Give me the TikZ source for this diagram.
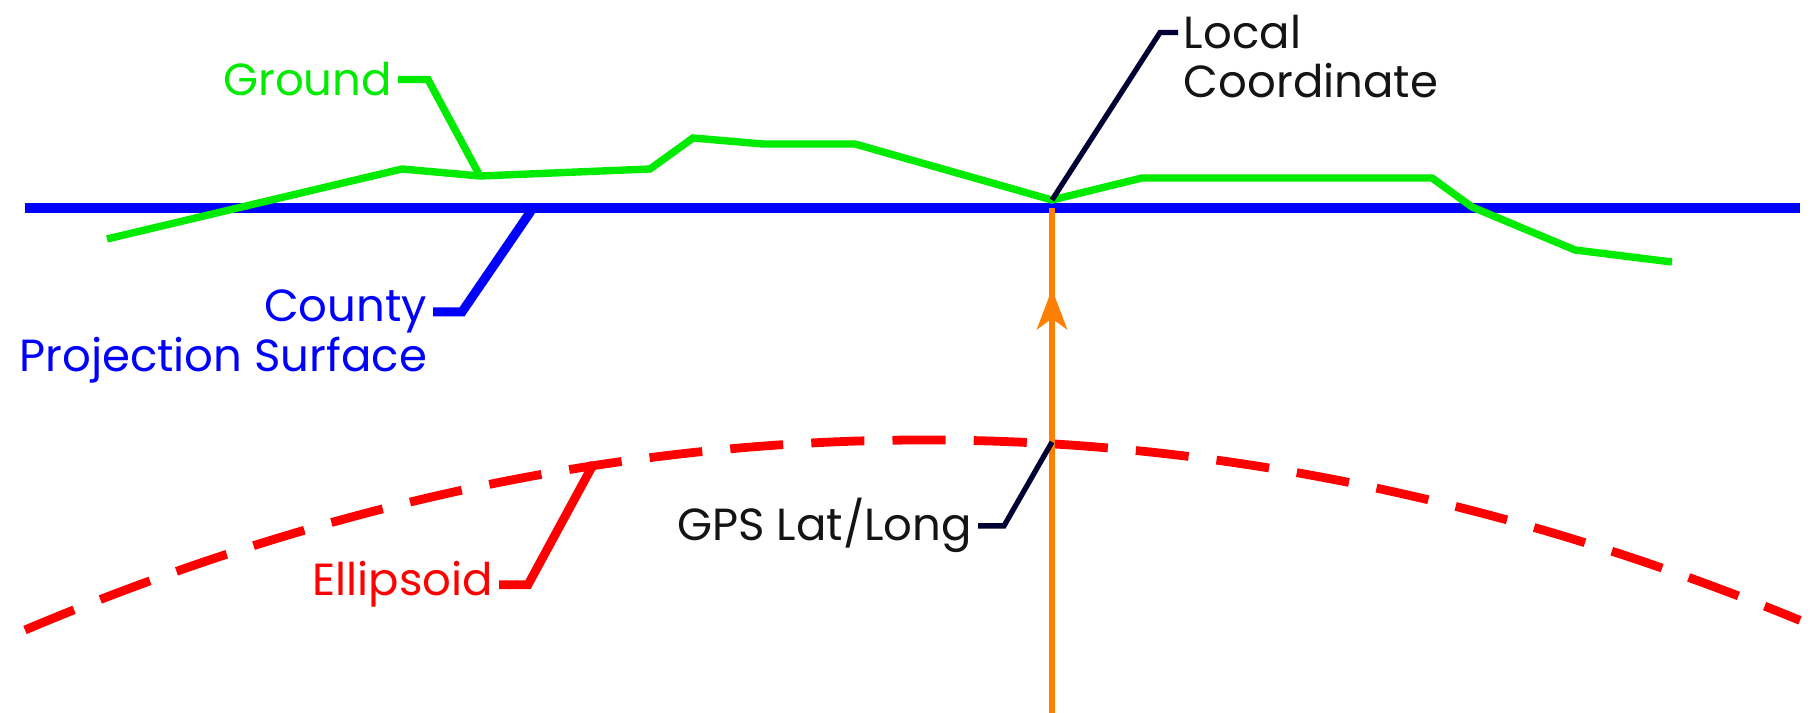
\documentclass[tikz,border=0pt]{standalone}
\usepackage{fontspec}
\setmainfont{Poppins}
\usetikzlibrary{arrows.meta}
\definecolor{groundgreen}{RGB}{0,235,0}
\definecolor{surfblue}{RGB}{0,0,255}
\definecolor{ellred}{RGB}{255,0,0}
\definecolor{vecorange}{RGB}{255,128,0}
\definecolor{leadnavy}{RGB}{0,0,51}
\definecolor{lbltext}{RGB}{20,20,20}
\begin{document}
\begin{tikzpicture}[x=0.01cm, y=-0.01cm,
  lbl/.style={inner xsep=1.5pt, inner ysep=0pt, font=\fontsize{12.8}{15}\selectfont},
  groundline/.style={draw=groundgreen, line width=2.1pt},
  surfline/.style={draw=surfblue, line width=2.6pt},
  ellline/.style={draw=ellred, line width=2.5pt},
  ellcurve/.style={ellline, dash pattern=on 15.1pt off 8pt},
  navyline/.style={draw=leadnavy, line width=1.5pt},
  vecline/.style={draw=vecorange, line width=1.9pt}]
\fill[white] (0,0) rectangle (1812,713);
\useasboundingbox (0,0) rectangle (1812,713);

% key points
\coordinate (gpt) at (1052,200);   % ground point above the vector
\coordinate (bpt) at (1052,208);   % on the projection surface
\coordinate (ept) at (1052,442);   % on the ellipsoid
\coordinate (obot) at (1052,713);
\coordinate (gndknee) at (480,176);
\coordinate (surfknee) at (531,211);
\coordinate (ellknee) at (594,463);

% county projection surface
\draw[surfline] (25,208) coordinate (sl) -- (1800,208) coordinate (sr);

% ground profile
\draw[groundline] (107,239) -- (402,169) -- (gndknee) -- (650,169) -- (693,138)
  -- (763,144) -- (855,144) -- (gpt) -- (1142,178) -- (1432,178) -- (1472,207)
  -- (1575,250) -- (1672,262);

% ellipsoid
\draw[ellcurve] (25,630) coordinate (el) .. controls (616.7,379.9) and (1208.3,376.7) .. (1800,620.4) coordinate (er);

% labels
\node[lbl, text=groundgreen, anchor=base east] (groundlbl) at (398,96) {Ground};
\node[lbl, text=surfblue, anchor=base east] (countylbl) at (433,322) {County};
\node[lbl, text=surfblue, anchor=base east] (projlbl) at (433,372) {Projection Surface};
\node[lbl, text=ellred, anchor=base east] (elllbl) at (499,596) {Ellipsoid};
\node[lbl, text=lbltext, anchor=base east] (gpslbl) at (978,541) {GPS Lat/Long};
\node[lbl, text=lbltext, anchor=base west] (locallbl) at (1178,49) {Local};
\node[lbl, text=lbltext, anchor=base west] (coordlbl) at (1178,98) {Coordinate};

% leaders
\draw[groundline] (groundlbl.east) -- ++(30,0) -- (gndknee);
\draw[surfline] (countylbl.east) -- ++(29,0) -- (surfknee);
\draw[ellline] (elllbl.east) -- ++(29,0) -- (ellknee);
\draw[navyline] (locallbl.west) -- ++(-18,0) -- (gpt);

% position vector
\draw[vecline] (obot) -- (bpt);
\draw[vecline, -{Stealth[length=11.4pt, width=8.5pt, inset=3pt]}] (1052,330) -- (1052,289);

\draw[navyline] (gpslbl.east) -- ++(26,0) -- (ept);
\end{tikzpicture}
\end{document}
